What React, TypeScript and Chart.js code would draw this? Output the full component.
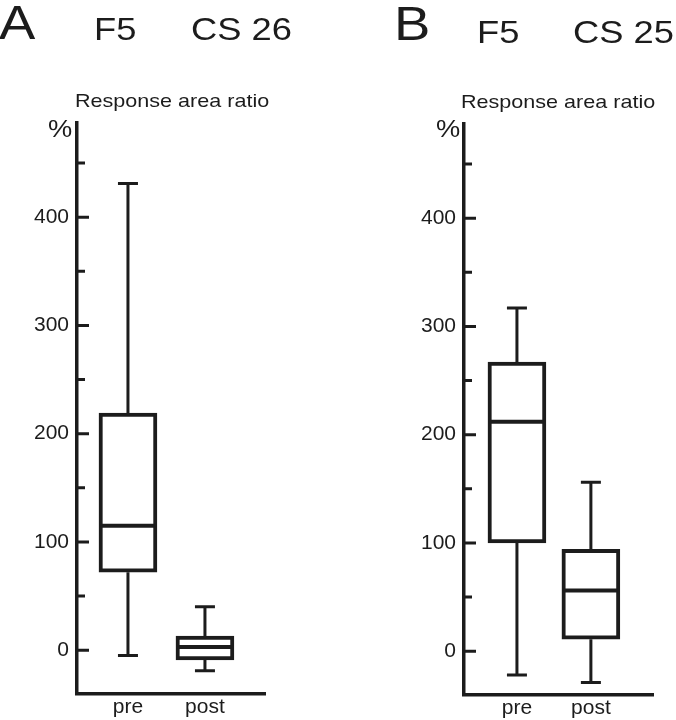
import React, { useEffect, useRef } from 'react';
import { Chart, registerables } from 'chart.js';

Chart.register(...registerables);

const CATEGORIES = ['pre', 'post'];
const CAT_POS = [1, 2];
const Y_TICKS = [0, 50, 100, 150, 200, 250, 300, 350, 400, 450];
const Y_MIN = -40.5;
const Y_MAX = 487;

// Panel A: F5, CS 26
const A_MIN = [-5, -19];
const A_Q1 = [72, -9];
const A_MED = [115, 3];
const A_Q3 = [219, 13];
const A_MAX = [431, 40];

// Panel B: F5, CS 25
const B_MIN = [-22, -29];
const B_Q1 = [100, 11];
const B_MED = [212, 56];
const B_Q3 = [267, 94];
const B_MAX = [317, 156];

const INK = '#1c1c1c';
const FONT = '"Liberation Sans", Arial, Helvetica, sans-serif';

type Stats = { min: number[]; q1: number[]; med: number[]; q3: number[]; max: number[] };

type PanelProps = {
  left: number;
  width: number;
  chartLeft: number;
  chartTop: number;
  chartRight: number;
  chartBottom: number;
  xMin: number;
  xMax: number;
  stats: Stats;
};

function Panel(p: PanelProps) {
  const ref = useRef<HTMLCanvasElement | null>(null);
  useEffect(() => {
    if (!ref.current) return;
    const s = p.stats;
    const boxPlugin = {
      id: 'boxWhiskers',
      afterDatasetsDraw(chart: any) {
        const { ctx } = chart;
        const x = chart.scales.x;
        const y = chart.scales.y;
        ctx.save();
        ctx.strokeStyle = INK;
        ctx.lineCap = 'butt';
        CAT_POS.forEach((pos, i) => {
          const cx = x.getPixelForValue(pos);
          ctx.lineWidth = 3;
          ctx.beginPath();
          ctx.moveTo(cx, y.getPixelForValue(s.max[i]));
          ctx.lineTo(cx, y.getPixelForValue(s.q3[i]));
          ctx.moveTo(cx, y.getPixelForValue(s.q1[i]));
          ctx.lineTo(cx, y.getPixelForValue(s.min[i]));
          ctx.moveTo(cx - 10, y.getPixelForValue(s.max[i]));
          ctx.lineTo(cx + 10, y.getPixelForValue(s.max[i]));
          ctx.moveTo(cx - 10, y.getPixelForValue(s.min[i]));
          ctx.lineTo(cx + 10, y.getPixelForValue(s.min[i]));
          ctx.stroke();
          ctx.lineWidth = 4;
          ctx.beginPath();
          ctx.moveTo(cx - 27, y.getPixelForValue(s.med[i]));
          ctx.lineTo(cx + 27, y.getPixelForValue(s.med[i]));
          ctx.stroke();
        });
        ctx.restore();
      },
      afterDraw(chart: any) {
        const { ctx } = chart;
        const y = chart.scales.y;
        const ax = chart.chartArea.left;
        ctx.save();
        ctx.strokeStyle = INK;
        ctx.lineWidth = 3;
        ctx.beginPath();
        y.ticks.forEach((t: any) => {
          const py = y.getPixelForValue(t.value);
          const len = t.value % 100 === 0 ? 12 : 8;
          ctx.moveTo(ax, py);
          ctx.lineTo(ax + len, py);
        });
        ctx.stroke();
        ctx.restore();
      },
    };

    const chart = new Chart(ref.current, {
      type: 'bar',
      data: {
        datasets: [
          {
            data: CAT_POS.map((pos, i) => ({ x: pos, y: [s.q1[i], s.q3[i]] })) as any,
            backgroundColor: '#ffffff',
            borderColor: INK,
            borderWidth: 4,
            borderSkipped: false,
            barThickness: 58,
          } as any,
        ],
      },
      options: {
        animation: false,
        responsive: false,
        devicePixelRatio: 1,
        layout: {
          padding: {
            left: 0,
            top: p.chartTop,
            right: p.width - p.chartRight,
            bottom: 0,
          },
        },
        plugins: {
          legend: { display: false },
          tooltip: { enabled: false },
          title: { display: false },
        },
        scales: {
          x: {
            type: 'linear',
            offset: false,
            min: p.xMin,
            max: p.xMax,
            afterBuildTicks: (scale: any) => {
              scale.ticks = CAT_POS.map((v) => ({ value: v }));
            },
            afterFit: (scale: any) => {
              scale.height = 720 - p.chartBottom;
            },
            ticks: {
              callback: (_v: any, i: number) => CATEGORIES[i],
              font: { family: FONT, size: 21 },
              color: INK,
              padding: 1,
              maxRotation: 0,
              autoSkip: false,
            },
            grid: { display: false, drawTicks: false, offset: false },
            border: { display: true, width: 3.5, color: INK },
          },
          y: {
            type: 'linear',
            min: Y_MIN,
            max: Y_MAX,
            afterBuildTicks: (scale: any) => {
              scale.ticks = Y_TICKS.map((v) => ({ value: v }));
            },
            afterFit: (scale: any) => {
              scale.width = p.chartLeft;
            },
            ticks: {
              callback: (v: any) => (Number(v) % 100 === 0 ? String(v) : ''),
              font: { family: FONT, size: 21 },
              color: INK,
              padding: 8,
            },
            grid: { display: false, drawTicks: false },
            border: { display: true, width: 3.5, color: INK },
          },
        },
      } as any,
      plugins: [boxPlugin],
    });
    return () => chart.destroy();
  }, []);

  return (
    <canvas
      ref={ref}
      width={p.width}
      height={720}
      style={{ position: 'absolute', left: p.left, top: 0, width: p.width, height: 720 }}
    />
  );
}

function Txt(props: { x: number; baseline: number; size: number; children: string }) {
  return (
    <div
      style={{
        position: 'absolute',
        left: props.x,
        top: props.baseline - props.size * 0.8465,
        fontFamily: FONT,
        fontSize: props.size,
        lineHeight: `${props.size}px`,
        transform: 'scaleX(1.135)',
        transformOrigin: 'left top',
        color: INK,
        whiteSpace: 'nowrap',
      }}
    >
      {props.children}
    </div>
  );
}

export default function App() {
  return (
    <div style={{ position: 'absolute', left: 0, top: 0, width: 676, height: 720, background: '#fff', overflow: 'hidden' }}>
      <Panel
        left={0}
        width={338}
        chartLeft={77}
        chartTop={123}
        chartRight={265}
        chartBottom={694}
        xMin={0.338}
        xMax={2.78}
        stats={{ min: A_MIN, q1: A_Q1, med: A_MED, q3: A_Q3, max: A_MAX }}
      />
      <Panel
        left={338}
        width={338}
        chartLeft={126}
        chartTop={124}
        chartRight={315}
        chartBottom={695}
        xMin={0.284}
        xMax={2.84}
        stats={{ min: B_MIN, q1: B_Q1, med: B_MED, q3: B_Q3, max: B_MAX }}
      />
      <Txt x={-1} baseline={40} size={48}>A</Txt>
      <Txt x={94} baseline={40} size={32}>F5</Txt>
      <Txt x={191} baseline={40} size={32}>CS 26</Txt>
      <Txt x={75} baseline={107} size={19}>Response area ratio</Txt>
      <Txt x={48} baseline={137} size={24}>%</Txt>
      <Txt x={394} baseline={41} size={48}>B</Txt>
      <Txt x={477} baseline={43} size={32}>F5</Txt>
      <Txt x={573} baseline={43} size={32}>CS 25</Txt>
      <Txt x={461} baseline={108} size={19}>Response area ratio</Txt>
      <Txt x={436} baseline={137} size={24}>%</Txt>
    </div>
  );
}
